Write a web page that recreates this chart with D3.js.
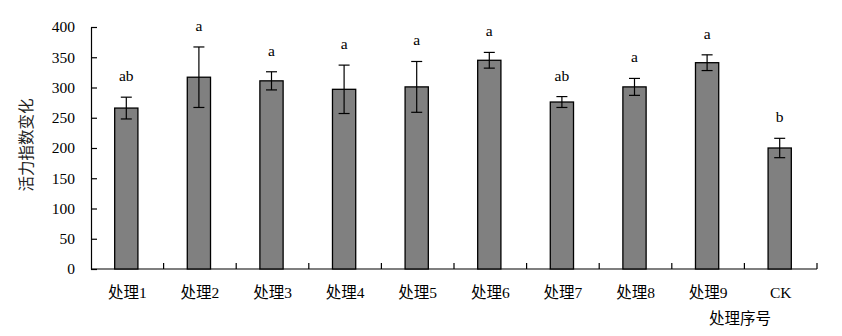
<!DOCTYPE html>
<html>
<head>
<meta charset="utf-8">
<script src="https://cdn.jsdelivr.net/npm/d3@7"></script>
<style>
  html, body { margin: 0; padding: 0; background: #fff; }
  svg { display: block; }
  text { font-family: "Liberation Serif", "Times New Roman", "Noto Sans CJK SC", serif; }
</style>
</head>
<body>
<svg id="chart" width="842" height="336"></svg>
<script>
// Treatments and their vitality-index change (mean, standard error, significance letter)
const categories = ["处理1", "处理2", "处理3", "处理4", "处理5", "处理6", "处理7", "处理8", "处理9", "CK"];
const means      = [266, 317, 311, 297, 301, 345, 276, 301, 341, 200];
const errors     = [18, 50, 15, 40, 42, 13, 9, 14, 13, 16];
const letters    = ["ab", "a", "a", "a", "a", "a", "ab", "a", "a", "b"];
const yTicks     = [0, 50, 100, 150, 200, 250, 300, 350, 400];
const xTitle     = "处理序号";
const yTitle     = "活力指数变化";

const W = 842, H = 336;
const margin = { top: 27, right: 25, bottom: 67, left: 91 };
const innerW = W - margin.left - margin.right;
const innerH = H - margin.top - margin.bottom;

const svg = d3.select("#chart");
const g = svg.append("g").attr("transform", `translate(${margin.left},${margin.top})`);

const x = d3.scaleBand().domain(categories).range([0, innerW]).padding(0);
const y = d3.scaleLinear().domain([0, 400]).range([innerH, 0]);
const barW = x.bandwidth() * 0.32;

// y axis with inward ticks
const yAxis = d3.axisLeft(y).tickValues(yTicks).tickSizeInner(-6).tickSizeOuter(0).tickPadding(16);
const yg = g.append("g").call(yAxis);
yg.select(".domain").attr("stroke", "#000").attr("stroke-width", 1.2);
yg.selectAll(".tick line").attr("stroke", "#000").attr("stroke-width", 1.2);
yg.selectAll(".tick text").attr("font-size", 15.5).attr("fill", "#000")
  .attr("font-family", "'Liberation Serif', 'Times New Roman', serif");

// x axis: category labels, ticks at band boundaries pointing up
const xAxis = d3.axisBottom(x).tickSize(0).tickPadding(18);
const xg = g.append("g").attr("transform", `translate(0,${innerH})`).call(xAxis);
xg.select(".domain").remove();
xg.selectAll(".tick text").attr("font-size", 15.5).attr("fill", "#000");
g.append("line").attr("x1", 0).attr("x2", innerW).attr("y1", innerH).attr("y2", innerH)
  .attr("stroke", "#000").attr("stroke-width", 1.2);
g.append("g").selectAll("line").data(categories).join("line")
  .attr("x1", d => x(d) + x.bandwidth()).attr("x2", d => x(d) + x.bandwidth())
  .attr("y1", innerH).attr("y2", innerH - 6)
  .attr("stroke", "#000").attr("stroke-width", 1.2);

const rows = categories.map((c, i) => ({ c, m: means[i], e: errors[i], l: letters[i] }));
const cx = d => x(d.c) + x.bandwidth() / 2 - 1;

// bars
g.append("g").selectAll("rect").data(rows).join("rect")
  .attr("x", d => cx(d) - barW / 2)
  .attr("y", d => y(d.m))
  .attr("width", barW)
  .attr("height", d => innerH - y(d.m))
  .attr("fill", "#808080")
  .attr("stroke", "#000")
  .attr("stroke-width", 1.3);

// error bars
const eg = g.append("g").attr("stroke", "#000").attr("stroke-width", 1.2);
eg.selectAll(".stem").data(rows).join("line").attr("class", "stem")
  .attr("x1", cx).attr("x2", cx)
  .attr("y1", d => y(d.m + d.e)).attr("y2", d => y(d.m - d.e));
eg.selectAll(".capT").data(rows).join("line").attr("class", "capT")
  .attr("x1", d => cx(d) - 5.5).attr("x2", d => cx(d) + 5.5)
  .attr("y1", d => y(d.m + d.e)).attr("y2", d => y(d.m + d.e));
eg.selectAll(".capB").data(rows).join("line").attr("class", "capB")
  .attr("x1", d => cx(d) - 5.5).attr("x2", d => cx(d) + 5.5)
  .attr("y1", d => y(d.m - d.e)).attr("y2", d => y(d.m - d.e));

// significance letters
g.append("g").selectAll("text").data(rows).join("text")
  .attr("x", cx)
  .attr("y", d => y(d.m + d.e) - 16)
  .attr("text-anchor", "middle")
  .attr("font-size", 15.5)
  .attr("fill", "#000")
  .text(d => d.l);

// axis titles
svg.append("text")
  .attr("x", 740).attr("y", 324)
  .attr("text-anchor", "middle")
  .attr("font-size", 15.5)
  .attr("fill", "#000")
  .text(xTitle);

svg.append("text")
  .attr("transform", `translate(32,${margin.top + 118}) rotate(-90)`)
  .attr("text-anchor", "middle")
  .attr("font-size", 15.5)
  .attr("fill", "#222")
  .text(yTitle);
</script>
</body>
</html>
